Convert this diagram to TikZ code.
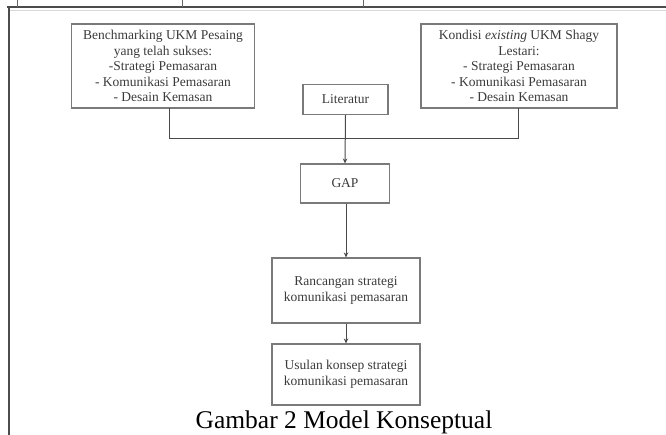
\documentclass[tikz,border=0pt]{standalone}
\usepackage{fontspec}
\setmainfont{Liberation Serif}
\usetikzlibrary{arrows.meta}
\definecolor{boxline}{HTML}{7A7A7A}
\definecolor{conn}{HTML}{4A4A4A}
\definecolor{txt}{HTML}{3A3A3A}
\begin{document}
\begin{tikzpicture}[x=1pt,y=-1pt,
  box/.style={draw=boxline,line width=1.1pt,inner sep=0pt,align=center,text=txt,
    font=\fontsize{13.5}{15.5}\selectfont},
  link/.style={draw=conn,line width=1pt},
  arr/.style={link,-{Stealth[length=5pt,width=4.5pt]}},
  frame/.style={draw=black!70,line width=1.2pt}]
\useasboundingbox (0,0) rectangle (666,435);
% page frame and table strip
\draw[frame] (7,7) -- (666,7);
\draw[frame] (9,7) -- (9,435);
\draw[draw=black!15,line width=0.8pt] (10,10.5) -- (666,10.5);
\draw[draw=black!60,line width=0.9pt] (17,0) -- (17,7);
\draw[draw=black!60,line width=0.9pt] (182,0) -- (182,7);
\draw[draw=black!60,line width=0.9pt] (363,0) -- (363,7);
% boxes
\node[box,minimum width=183pt,minimum height=84pt] (bench) at (163,66)
  {Benchmarking UKM Pesaing\\yang telah sukses:\\-Strategi Pemasaran\\- Komunikasi Pemasaran\\- Desain Kemasan};
\node[box,minimum width=196pt,minimum height=84pt] (kond) at (519,66)
  {Kondisi \textit{existing} UKM Shagy\\Lestari:\\- Strategi Pemasaran\\- Komunikasi Pemasaran\\- Desain Kemasan};
\node[box,minimum width=85pt,minimum height=30pt] (lit) at (345.5,99.5) {Literatur};
\node[box,minimum width=89pt,minimum height=39pt] (gap) at (345,183.5) {GAP};
\node[box,minimum width=148pt,minimum height=65pt] (ranc) at (346,290.5)
  {Rancangan strategi\\komunikasi pemasaran};
\node[box,minimum width=148pt,minimum height=61pt] (usul) at (346,374.5)
  {Usulan konsep strategi\\komunikasi pemasaran};
% connectors
\coordinate (bl) at (169,108);
\coordinate (br) at (518,108);
\coordinate (jl) at (169,139);
\coordinate (jr) at (518,139);
\draw[link] (bl) -- (jl) -- (jr) -- (br);
\draw[arr] (lit.south) -- (gap.north);
\draw[arr] (gap.south -| ranc.north) -- (ranc.north);
\draw[arr] (ranc.south) -- (usul.north);
% caption
\node[anchor=base,font=\fontsize{25.5}{27}\selectfont,text=black] (cap) at (344,428)
  {Gambar 2 Model Konseptual};
\end{tikzpicture}
\end{document}
